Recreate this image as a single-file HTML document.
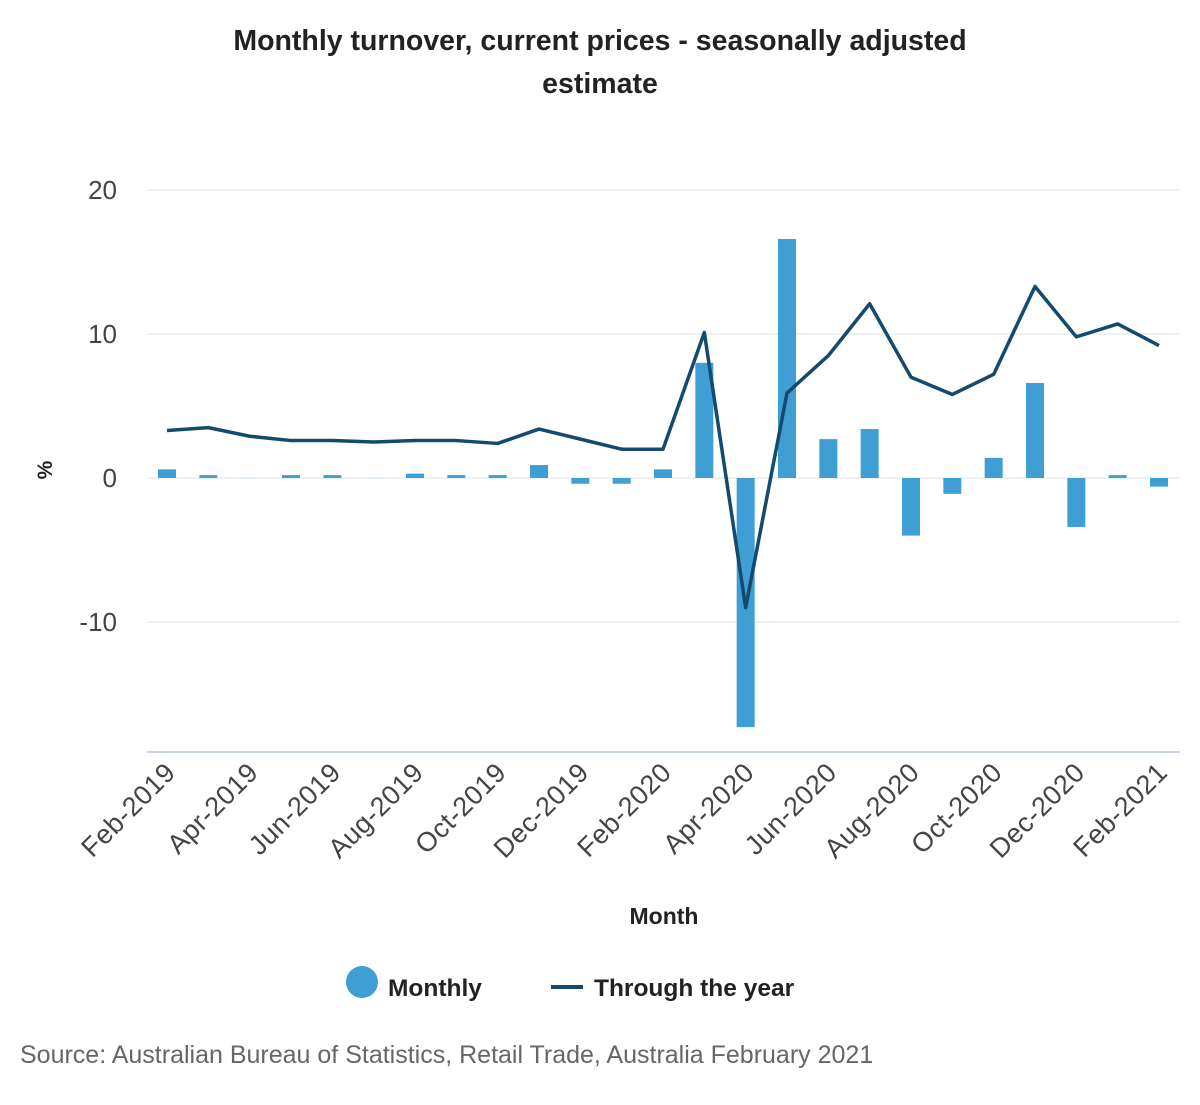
<!DOCTYPE html>
<html><head><meta charset="utf-8"><style>
body{margin:0;background:#fff;font-family:"Liberation Sans",sans-serif;}
svg text{font-family:"Liberation Sans",sans-serif;}
</style></head><body>
<svg id="chart" width="1200" height="1100" xmlns="http://www.w3.org/2000/svg">
<text x="600" y="50" text-anchor="middle" font-size="28.5" font-weight="bold" fill="#222">Monthly turnover, current prices - seasonally adjusted</text>
<text x="600" y="93" text-anchor="middle" font-size="28.5" font-weight="bold" fill="#222">estimate</text>
<g id="grid"></g><g id="bars"></g><g id="line"></g><g id="xlabels"></g>
<text transform="translate(52,470) rotate(-90)" text-anchor="middle" font-size="21" font-weight="bold" fill="#222">%</text>
<text x="664" y="924" text-anchor="middle" font-size="23" font-weight="bold" fill="#222">Month</text>
<g>
<circle cx="362" cy="982" r="16" fill="#3f9fd5"/>
<text x="388" y="996" font-size="24.5" font-weight="bold" fill="#222">Monthly</text></g>
<g>
<line x1="551" y1="987" x2="583" y2="987" stroke="#134a6e" stroke-width="4"/>
<text x="594" y="996" font-size="24.5" font-weight="bold" fill="#222">Through the year</text></g>
<text x="20" y="1063" font-size="25" fill="#666">Source: Australian Bureau of Statistics, Retail Trade, Australia February 2021</text>
</svg>
<script>
const months=["Feb-2019","Mar-2019","Apr-2019","May-2019","Jun-2019","Jul-2019","Aug-2019","Sep-2019","Oct-2019","Nov-2019","Dec-2019","Jan-2020","Feb-2020","Mar-2020","Apr-2020","May-2020","Jun-2020","Jul-2020","Aug-2020","Sep-2020","Oct-2020","Nov-2020","Dec-2020","Jan-2021","Feb-2021"];
const monthly=[0.6,0.2,0,0.2,0.2,0,0.3,0.2,0.2,0.9,-0.4,-0.4,0.6,8.0,-17.3,16.6,2.7,3.4,-4.0,-1.1,1.4,6.6,-3.4,0.2,-0.6];
const throughYear=[3.3,3.5,2.9,2.6,2.6,2.5,2.6,2.6,2.4,3.4,2.7,2.0,2.0,10.1,-9.0,5.9,8.5,12.1,7.0,5.8,7.2,13.3,9.8,10.7,9.2];
const yTicks=[20,10,0,-10];
const NS="http://www.w3.org/2000/svg";
const yS=v=>478-v*14.4;
const xS=i=>167+i*(1159-167)/(months.length-1);
function mk(t,a,p){const e=document.createElementNS(NS,t);for(const k in a)e.setAttribute(k,a[k]);p.appendChild(e);return e;}
const grid=document.getElementById('grid');
yTicks.forEach(v=>{
 const l=mk('line',{x1:147,x2:1180,y1:yS(v),y2:yS(v),stroke:'#dde1e6','stroke-width':1},grid);
 
 
 const t=mk('text',{x:117,y:yS(v)+9,'text-anchor':'end','font-size':26,fill:'#444'},grid);
 t.textContent=v;
 
 
});
const ax=mk('line',{x1:147,x2:1180,y1:752,y2:752,stroke:'#b8c8dc','stroke-width':1.5},grid);


const bars=document.getElementById('bars');
monthly.forEach((v,i)=>{
 const y0=yS(Math.max(v,0)),h=Math.max(Math.abs(v)*14.4,0.1);
 const r=mk('rect',{x:xS(i)-9,y:y0,width:18,height:h,fill:'#3f9fd5'},bars);
 
 
});
const pts=throughYear.map((v,i)=>xS(i)+','+yS(v)).join(' ');
const pl=mk('polyline',{points:pts,fill:'none',stroke:'#134a6e','stroke-width':3.5,'stroke-linejoin':'round'},document.getElementById('line'));


const xl=document.getElementById('xlabels');
months.forEach((m,i)=>{
 if(i%2)return;
 const t=mk('text',{transform:`translate(${xS(i)+10},${774}) rotate(-45)`,'text-anchor':'end','font-size':27,'letter-spacing':'0.5',fill:'#444'},xl);
 t.textContent=m;
 
 
});
</script>
</body></html>
